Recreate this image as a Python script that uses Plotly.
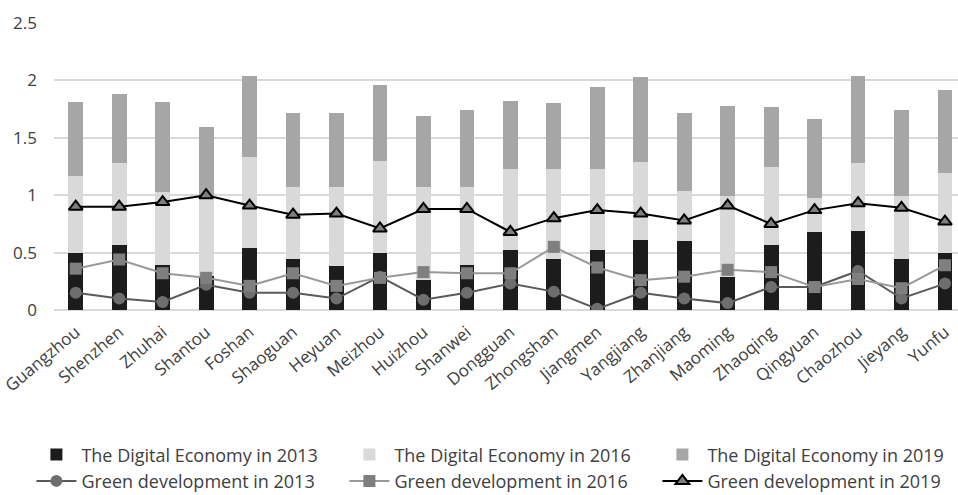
import plotly.graph_objects as go

cities = ["Guangzhou", "Shenzhen", "Zhuhai", "Shantou", "Foshan", "Shaoguan", "Heyuan",
          "Meizhou", "Huizhou", "Shanwei", "Dongguan", "Zhongshan", "Jiangmen", "Yangjiang",
          "Zhanjiang", "Maoming", "Zhaoqing", "Qingyuan", "Chaozhou", "Jieyang", "Yunfu"]

digital_2013 = [0.50, 0.57, 0.39, 0.30, 0.54, 0.44, 0.38, 0.50, 0.26, 0.39, 0.52,
                0.44, 0.52, 0.61, 0.60, 0.29, 0.57, 0.68, 0.69, 0.44, 0.50]
digital_2016 = [0.67, 0.71, 0.64, 0.69, 0.79, 0.63, 0.69, 0.80, 0.81, 0.68, 0.71,
                0.79, 0.71, 0.68, 0.44, 0.70, 0.68, 0.30, 0.59, 0.55, 0.69]
digital_2019 = [0.64, 0.60, 0.78, 0.60, 0.71, 0.65, 0.65, 0.66, 0.62, 0.67, 0.59,
                0.57, 0.71, 0.74, 0.68, 0.79, 0.52, 0.68, 0.76, 0.75, 0.73]

green_2013 = [0.15, 0.10, 0.07, 0.22, 0.15, 0.15, 0.10, 0.29, 0.09, 0.15, 0.23,
              0.16, 0.01, 0.15, 0.10, 0.06, 0.20, 0.20, 0.34, 0.10, 0.23]
green_2016 = [0.36, 0.44, 0.32, 0.28, 0.21, 0.32, 0.21, 0.28, 0.33, 0.32, 0.32,
              0.55, 0.37, 0.26, 0.29, 0.35, 0.33, 0.20, 0.27, 0.19, 0.39]
green_2019 = [0.90, 0.90, 0.94, 1.00, 0.91, 0.83, 0.84, 0.71, 0.88, 0.88, 0.68,
              0.80, 0.87, 0.84, 0.78, 0.91, 0.75, 0.87, 0.93, 0.89, 0.77]

font_family = "Open Sans, Liberation Sans, sans-serif"
text_color = "#404040"

fig = go.Figure()
bar_specs = [("The Digital Economy in 2013", digital_2013, "#1c1c1c"),
             ("The Digital Economy in 2016", digital_2016, "#d9d9d9"),
             ("The Digital Economy in 2019", digital_2019, "#a6a6a6")]
for name, vals, col in bar_specs:
    fig.add_trace(go.Bar(x=cities, y=vals, name=name, marker=dict(color=col, line=dict(width=0))))

line_specs = [("Green development in 2013", green_2013, "#5a5a5a", "circle", "#6e6e6e", "#6e6e6e", 0),
              ("Green development in 2016", green_2016, "#999999", "square", "#7f7f7f", "#7f7f7f", 0),
              ("Green development in 2019", green_2019, "#000000", "triangle-up", "#7f7f7f", "#000000", 2)]
for name, vals, lcol, sym, mcol, mline, mlw in line_specs:
    fig.add_trace(go.Scatter(x=cities, y=vals, name=name, mode="lines+markers",
                             line=dict(color=lcol, width=2),
                             marker=dict(symbol=sym, size=12, color=mcol,
                                         line=dict(color=mline, width=mlw))))

fig.update_layout(
    barmode="stack",
    bargap=0.66,
    width=958, height=495,
    margin=dict(l=54, r=0, t=23, b=185, autoexpand=False),
    paper_bgcolor="white", plot_bgcolor="white",
    font=dict(family=font_family, size=15, color=text_color),
    legend=dict(orientation="h", x=-0.025, y=-0.44, xanchor="left", yanchor="top",
                entrywidth=258, entrywidthmode="pixels", traceorder="normal",
                font=dict(size=18, color=text_color), itemwidth=40, tracegroupgap=0),
    xaxis=dict(tickangle=-40, tickfont=dict(size=17, color=text_color),
               range=[-0.5, 20.3], showgrid=False, showline=False, ticks="",
               ticklabelstandoff=8, automargin=False),
    yaxis=dict(range=[0, 2.5], dtick=0.5, showgrid=True, gridcolor="#d9d9d9", gridwidth=1.5,
               zeroline=True, zerolinecolor="#d9d9d9", zerolinewidth=1.5,
               tickfont=dict(size=17, color=text_color), ticklabelstandoff=16,
               automargin=False),
    showlegend=True,
)

fig.write_html("out.html", config={"displayModeBar": False},
               post_script="document.body.style.margin='0';document.body.style.overflow='hidden';")
